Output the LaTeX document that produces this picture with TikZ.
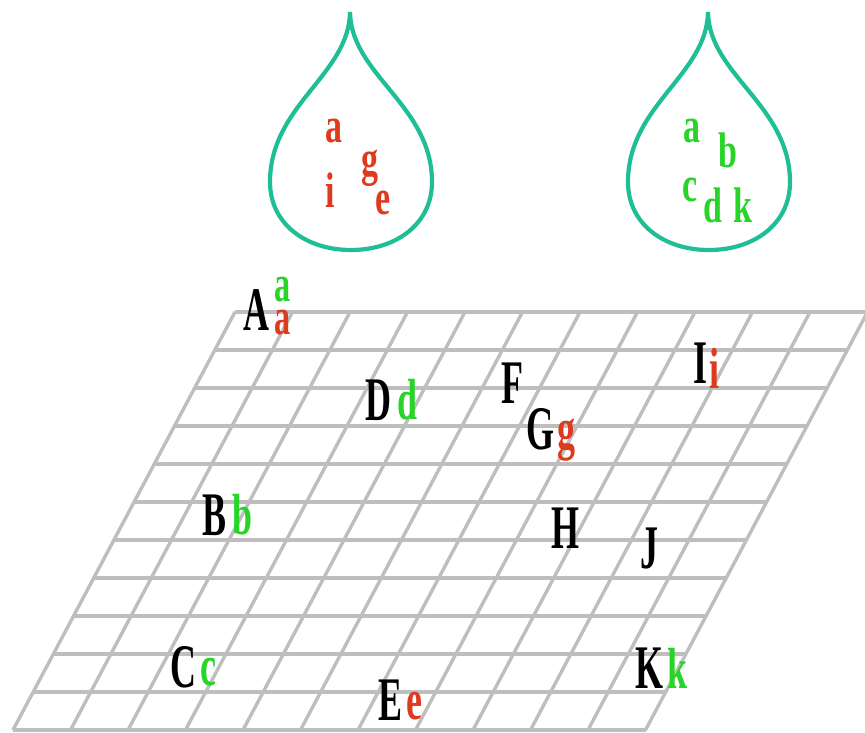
\documentclass[tikz,border=0pt]{standalone}
\usepackage{fontspec}
\newfontfamily\handfont{Liberation Serif}
\definecolor{dropteal}{RGB}{32,190,150}
\definecolor{gridgray}{RGB}{190,190,190}
\definecolor{lred}{RGB}{222,58,30}
\definecolor{lgreen}{RGB}{40,212,40}
\tikzset{
  capletter/.style={inner sep=0pt, anchor=center, font=\handfont\bfseries\fontsize{62}{62}\selectfont, xscale=0.58, text=black},
  lowletter/.style={inner sep=0pt, anchor=center, font=\handfont\bfseries\fontsize{58}{58}\selectfont, xscale=0.62},
  smalllow/.style={inner sep=0pt, anchor=center, font=\handfont\bfseries\fontsize{52}{52}\selectfont, xscale=0.62},
  dropletter/.style={inner sep=0pt, anchor=center, font=\handfont\bfseries\fontsize{50}{50}\selectfont, xscale=0.68},
  droplet/.style={draw=dropteal, line width=4.2pt},
  gridline/.style={draw=gridgray, line width=3.4pt}
}
\begin{document}
\begin{tikzpicture}[x=1pt, y=-1pt]
\useasboundingbox (0,0) rectangle (865,732);
% drops
\draw[droplet] (350,12) .. controls (351,75) and (432,105) .. (432,182)
  .. controls (432,224) and (396,250) .. (351,250)
  .. controls (306,250) and (270,224) .. (270,182)
  .. controls (270,105) and (349,75) .. (350,12) -- cycle;
\draw[droplet] (708,12) .. controls (709,75) and (790,105) .. (790,182)
  .. controls (790,224) and (754,250) .. (709,250)
  .. controls (664,250) and (628,224) .. (628,182)
  .. controls (628,105) and (707,75) .. (708,12) -- cycle;
% drop letters
\node[dropletter, text=lred] (la) at (334,131) {a};
\node[dropletter, text=lred] (li) at (330,190) {i};
\node[dropletter, text=lred] (lg) at (370,168) {g};
\node[dropletter, text=lred] (le) at (383,203) {e};
\node[dropletter, text=lgreen] (ra) at (692,131) {a};
\node[dropletter, text=lgreen] (rb) at (728,150) {b};
\node[dropletter, text=lgreen] (rc) at (690,190) {c};
\node[dropletter, text=lgreen] (rd) at (713,205) {d};
\node[dropletter, text=lgreen] (rk) at (743,205) {k};
% grid (slanted)
\foreach \i in {0,...,11} {
  \draw[gridline] ({235+57.5*\i},312) -- ({13+57.5*\i},730);
  \draw[gridline] ({235-20.18*\i},{312+38*\i}) -- ({867.5-20.18*\i},{312+38*\i});
}
% grid letters
\node[capletter] (A) at (256,310) {A};
\node[smalllow, text=lgreen] (A1) at (283,290) {a};
\node[smalllow, text=lred] (A2) at (283,323) {a};
\node[capletter] (D) at (378,400) {D};
\node[lowletter, text=lgreen] (d) at (407,400) {d};
\node[capletter] (F) at (512,383) {F};
\node[capletter] (G) at (540,429) {G};
\node[lowletter, text=lred] (g) at (566,440) {g};
\node[capletter] (I) at (700,363) {I};
\node[lowletter, text=lred] (i) at (714,368) {i};
\node[capletter] (B) at (214,515) {B};
\node[lowletter, text=lgreen] (b) at (242,515) {b};
\node[capletter] (H) at (565,528) {H};
\node[capletter] (J) at (649,548) {J};
\node[capletter] (C) at (183,667) {C};
\node[lowletter, text=lgreen] (c) at (208,672) {c};
\node[capletter] (E) at (390,700) {E};
\node[lowletter, text=lred] (e) at (414,706) {e};
\node[capletter] (K) at (649,668) {K};
\node[lowletter, text=lgreen] (k) at (677,668) {k};
\end{tikzpicture}
\end{document}
